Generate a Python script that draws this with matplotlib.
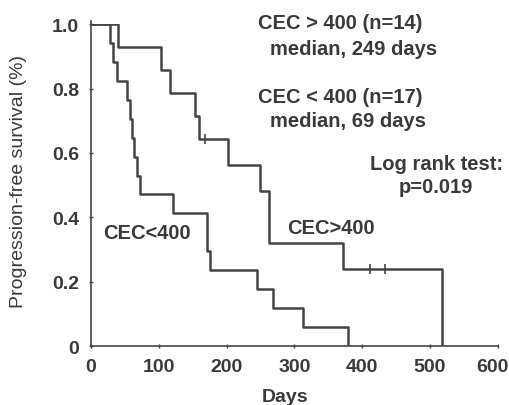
import matplotlib.pyplot as plt
from matplotlib.transforms import ScaledTranslation

# Kaplan-Meier step data
high_times = [0, 40, 103, 117, 153, 159, 202, 249, 263, 372, 518]
high_surv = [1.0, 0.929, 0.857, 0.786, 0.714, 0.643, 0.563, 0.482, 0.321, 0.241, 0.0]
high_censor_t = [168, 411, 433]
high_censor_s = [0.643, 0.241, 0.241]

low_times = [0, 28, 33, 38, 53, 57, 60, 63, 68, 72, 121, 171, 176, 245, 268, 313, 379]
low_surv = [1.0, 0.941, 0.882, 0.824, 0.765, 0.706, 0.647, 0.588, 0.529, 0.471,
            0.412, 0.294, 0.235, 0.176, 0.118, 0.059, 0.0]

x_ticks = [0, 100, 200, 300, 400, 500, 600]
y_ticks = [0, 0.2, 0.4, 0.6, 0.8, 1.0]
y_tick_labels = ['0', '0.2', '0.4', '0.6', '0.8', '1.0']

plt.rcParams['font.family'] = ['Liberation Sans', 'DejaVu Sans']
txt = '#3a3a3a'
line_col = '#454545'

fig = plt.figure(figsize=(5.09, 4.06), dpi=100)
ax = fig.add_axes([0.179, 0.145, 0.799, 0.793])

ax.step(high_times, high_surv, where='post', color=line_col, lw=1.8)
ax.step(low_times, low_surv, where='post', color=line_col, lw=1.8)
ax.plot(high_censor_t, high_censor_s, linestyle='none', marker='|', ms=7,
        mew=1.2, color=line_col)

ax.set_xlim(0, 600)
ax.set_ylim(0, 1.0)
ax.set_xticks(x_ticks)
ax.set_yticks(y_ticks)
ax.set_yticklabels(y_tick_labels)
ax.tick_params(direction='inout', length=3, width=1, colors=line_col,
               labelcolor=txt, labelsize=14, pad=7)
for lab in ax.get_xticklabels() + ax.get_yticklabels():
    lab.set_fontweight('bold')
# the last x label sits at the edge of the picture, nudge it in a little
last = ax.get_xticklabels()[-1]
last.set_transform(last.get_transform() + ScaledTranslation(-0.05, 0, fig.dpi_scale_trans))

for s in ['top', 'right']:
    ax.spines[s].set_visible(False)
for s in ['left', 'bottom']:
    ax.spines[s].set_color(line_col)
    ax.spines[s].set_linewidth(1.2)
ax.spines['left'].set_bounds(0, 1.01)

ax.set_xlabel('Days', fontsize=14, fontweight='bold', color=txt)
ax.xaxis.set_label_coords(0.477, -0.13)
ax.set_ylabel('Progression-free survival (%)', fontsize=14, color=txt)
ax.yaxis.set_label_coords(-0.157, 0.515)

kw = dict(fontsize=14.5, fontweight='bold', color=txt, va='center')
fig.text(0.507, 0.941, 'CEC > 400 (n=14)', **kw)
fig.text(0.530, 0.877, 'median, 249 days', **kw)
fig.text(0.507, 0.761, 'CEC < 400 (n=17)', **kw)
fig.text(0.530, 0.700, 'median, 69 days', **kw)
fig.text(0.857, 0.594, 'Log rank test:', ha='center', **kw)
fig.text(0.856, 0.537, 'p=0.019', ha='center', **kw)
fig.text(0.564, 0.438, 'CEC>400', **kw)
fig.text(0.202, 0.426, 'CEC<400', **kw)

fig.savefig('out.png', dpi=100, facecolor='white')
